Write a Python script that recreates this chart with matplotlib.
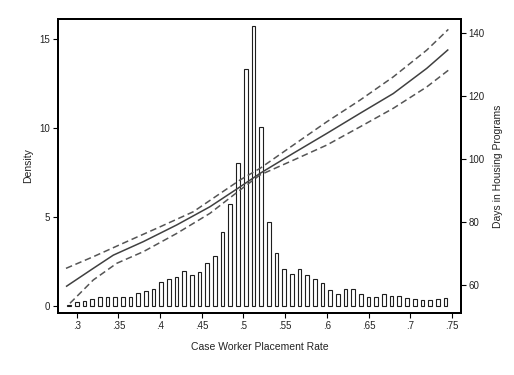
import numpy as np
import matplotlib
matplotlib.use("Agg")
import matplotlib.pyplot as plt

plt.rcParams['font.family'] = ['Liberation Sans', 'DejaVu Sans']

# Histogram of placement rate (density), 50 equal-width bins
bin_start = 0.2862
bin_width = 0.00921
density = [0.08, 0.22, 0.30, 0.37, 0.49, 0.52, 0.52, 0.52, 0.52, 0.71,
           0.86, 0.94, 1.33, 1.50, 1.65, 1.98, 1.74, 1.93, 2.40, 2.83,
           4.17, 5.73, 8.05, 13.3, 15.7, 10.07, 4.74, 3.00, 2.08, 1.82,
           2.08, 1.77, 1.50, 1.31, 0.90, 0.70, 0.96, 0.96, 0.70, 0.52,
           0.50, 0.69, 0.57, 0.56, 0.43, 0.40, 0.35, 0.35, 0.40, 0.43]

# Fitted days in housing programs with 95% confidence band
fit_x = [0.2872, 0.3199, 0.3439, 0.3799, 0.4199, 0.4598, 0.4958, 0.5198,
         0.5597, 0.5998, 0.6397, 0.6796, 0.7197, 0.7456]
fit_y = [59.5, 65.3, 69.5, 73.8, 79.1, 84.9, 91.2, 95.5,
         101.9, 108.2, 114.6, 120.9, 128.9, 134.9]

upper_x = [0.2872, 0.3199, 0.3600, 0.3999, 0.4398, 0.4958, 0.5198,
           0.5597, 0.5998, 0.6397, 0.6796, 0.7197, 0.7456]
upper_y = [65.3, 69.0, 73.8, 78.5, 83.3, 93.4, 97.1,
           104.5, 111.9, 118.8, 126.2, 134.7, 141.3]

lower_x = [0.2920, 0.3199, 0.3480, 0.3799, 0.4199, 0.4598, 0.4958, 0.5198,
           0.5597, 0.5998, 0.6397, 0.6796, 0.7197, 0.7456]
lower_y = [54.2, 61.6, 66.9, 70.6, 76.4, 82.8, 90.2, 95.0,
           99.7, 104.5, 110.3, 116.2, 123.0, 128.3]

x_ticks = [0.30, 0.35, 0.40, 0.45, 0.50, 0.55, 0.60, 0.65, 0.70, 0.75]
x_tick_labels = [".3", ".35", ".4", ".45", ".5", ".55", ".6", ".65", ".7", ".75"]
left_ticks = [0, 5, 10, 15]
right_ticks = [60, 80, 100, 120, 140]

fig = plt.figure(figsize=(5.14, 3.75), dpi=100)
ax = fig.add_axes([0.1128, 0.1653, 0.7841, 0.7840])
ax2 = ax.twinx()

centers = bin_start + bin_width * (np.arange(len(density)) + 0.5)
ax.bar(centers, density, width=bin_width * 0.48, facecolor='white',
       edgecolor='#1e1e1e', linewidth=0.8, zorder=2)

ax2.plot(fit_x, fit_y, color='#404040', lw=1.1, solid_capstyle='butt')
ax2.plot(upper_x, upper_y, color='#555555', lw=1.1, dashes=(4.3, 2.4))
ax2.plot(lower_x, lower_y, color='#555555', lw=1.1, dashes=(4.3, 2.4))

ax.set_xlim(0.2776, 0.7608)
ax.set_ylim(-0.39, 16.12)
ax2.set_ylim(51.1, 144.6)

ax.set_xticks(x_ticks)
ax.set_xticklabels(x_tick_labels)
ax.set_yticks(left_ticks)
ax2.set_yticks(right_ticks)

for a in (ax, ax2):
    for s in a.spines.values():
        s.set_linewidth(1.4)
        s.set_color('black')
    a.tick_params(direction='out', length=3.5, width=0.8, labelsize=7,
                  colors='black', labelcolor='#222222', pad=2)

ax.set_xlabel("Case Worker Placement Rate", fontsize=7.5, color='#222222', labelpad=8)
ax.set_ylabel("Density", fontsize=7.5, color='#222222', labelpad=5)
ax2.set_ylabel("Days in Housing Programs", fontsize=7.5, color='#222222',
               rotation=90, labelpad=6)

fig.savefig("out.png", dpi=100, facecolor='white')
